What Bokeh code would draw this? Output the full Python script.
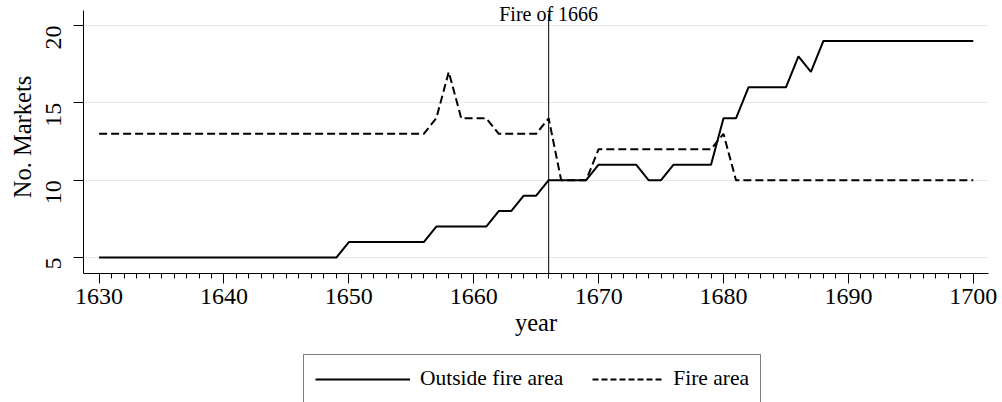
import math
from bokeh.plotting import figure
from bokeh.layouts import column
from bokeh.models import Range1d, FixedTicker, Label, Legend, LegendItem, ColumnDataSource
from bokeh.embed import file_html
from bokeh.resources import INLINE

# ---- data ----
years = list(range(1630, 1701))
outside_fire = [
    5, 5, 5, 5, 5, 5, 5, 5, 5, 5,          # 1630-1639
    5, 5, 5, 5, 5, 5, 5, 5, 5, 5,          # 1640-1649
    6, 6, 6, 6, 6, 6, 6, 7, 7, 7,          # 1650-1659
    7, 7, 8, 8, 9, 9, 10, 10, 10, 10,      # 1660-1669
    11, 11, 11, 11, 10, 10, 11, 11, 11, 11,  # 1670-1679
    14, 14, 16, 16, 16, 16, 18, 17, 19, 19,  # 1680-1689
    19, 19, 19, 19, 19, 19, 19, 19, 19, 19,  # 1690-1699
    19,                                     # 1700
]
fire_area = [
    13, 13, 13, 13, 13, 13, 13, 13, 13, 13,  # 1630-1639
    13, 13, 13, 13, 13, 13, 13, 13, 13, 13,  # 1640-1649
    13, 13, 13, 13, 13, 13, 13, 14, 17, 14,  # 1650-1659
    14, 14, 13, 13, 13, 13, 14, 10, 10, 10,  # 1660-1669
    12, 12, 12, 12, 12, 12, 12, 12, 12, 12,  # 1670-1679
    13, 10, 10, 10, 10, 10, 10, 10, 10, 10,  # 1680-1689
    10, 10, 10, 10, 10, 10, 10, 10, 10, 10,  # 1690-1699
    10,                                      # 1700
]
x_ticks = [1630, 1640, 1650, 1660, 1670, 1680, 1690, 1700]
y_ticks = [5, 10, 15, 20]
fire_year = 1666
series_labels = ["Outside fire area", "Fire area"]

FONT = "Liberation Serif"
Y_LO, Y_AXIS_TOP, Y_HI = 3.966, 20.97, 21.616

p = figure(width=1002, height=354, output_backend="svg", toolbar_location=None,
           x_range=Range1d(1628.75, 1701.22), y_range=Range1d(Y_LO, Y_HI),
           min_border_left=83, min_border_right=14, min_border_top=0, min_border_bottom=81)
p.outline_line_color = None
p.background_fill_color = "white"
p.border_fill_color = "white"

src = ColumnDataSource(dict(year=years, outside=outside_fire, fire=fire_area))
p.line("year", "outside", source=src, line_color="black", line_width=2)
p.line("year", "fire", source=src, line_color="black", line_width=2, line_dash="8 4")

# vertical marker line at the fire year
p.segment(x0=[fire_year], y0=[Y_LO], x1=[fire_year], y1=[20.75],
          line_color="black", line_width=1)
p.add_layout(Label(x=fire_year, y=20.74, text="Fire of 1666", text_align="center",
                   text_baseline="alphabetic", text_font=FONT, text_font_size="20px",
                   text_color="black"))

# axes
p.xaxis.ticker = FixedTicker(ticks=x_ticks, minor_ticks=years)
p.yaxis.ticker = FixedTicker(ticks=y_ticks, minor_ticks=[])
p.yaxis.bounds = (Y_LO, Y_AXIS_TOP)
p.xgrid.visible = False
p.ygrid.grid_line_color = "#e8e8e8"
p.ygrid.grid_line_width = 1

for ax in (p.xaxis[0], p.yaxis[0]):
    ax.axis_line_color = "black"
    ax.axis_line_width = 1
    ax.major_tick_line_color = "black"
    ax.minor_tick_line_color = "black"
    ax.major_tick_out = 10
    ax.major_tick_in = 0
    ax.minor_tick_out = 5
    ax.minor_tick_in = 0
    ax.major_label_text_font = FONT
    ax.major_label_text_font_size = "24px"
    ax.major_label_text_color = "black"
    ax.axis_label_text_font = FONT
    ax.axis_label_text_font_size = "24.5px"
    ax.axis_label_text_font_style = "normal"
    ax.axis_label_text_color = "black"

p.xaxis.axis_label = "year"
p.xaxis.major_label_standoff = 5
p.xaxis.axis_label_standoff = 2
p.yaxis.axis_label = "No. Markets"
p.yaxis.major_label_orientation = math.pi / 2
p.yaxis.major_label_standoff = 20
p.yaxis.axis_label_standoff = 0

# ---- legend strip (a second figure holding only the legend) ----
leg = figure(width=1002, height=48, output_backend="svg", toolbar_location=None,
             x_range=Range1d(0, 1002), y_range=Range1d(0, 48),
             x_axis_type=None, y_axis_type=None,
             min_border_left=0, min_border_right=0, min_border_top=0, min_border_bottom=0)
leg.outline_line_color = None
leg.xgrid.visible = False
leg.ygrid.visible = False
leg.background_fill_color = "white"
leg.border_fill_color = "white"

key_src = ColumnDataSource(dict(x=[0], y=[0]))
l1 = leg.line("x", "y", source=key_src, line_color="black", line_width=2)
l2 = leg.line("x", "y", source=key_src, line_color="black", line_width=2,
              line_dash="0 24 6 3 6 3 6 3 6 3 6 3 6 3 6 3 6 3")

legend = Legend(items=[LegendItem(label=series_labels[0], renderers=[l1]),
                       LegendItem(label=series_labels[1], renderers=[l2])],
                orientation="horizontal", location=(220, -1),
                glyph_width=95, glyph_height=20, label_standoff=10, spacing=5,
                padding=11, margin=0, border_line_color="black", border_line_width=1,
                label_text_font=FONT, label_text_font_size="21.5px",
                label_text_color="black", background_fill_color="white",
                background_fill_alpha=1)
leg.add_layout(legend, "center")

layout = column(p, leg, spacing=0)
open("out.html", "w").write(file_html(layout, INLINE))
